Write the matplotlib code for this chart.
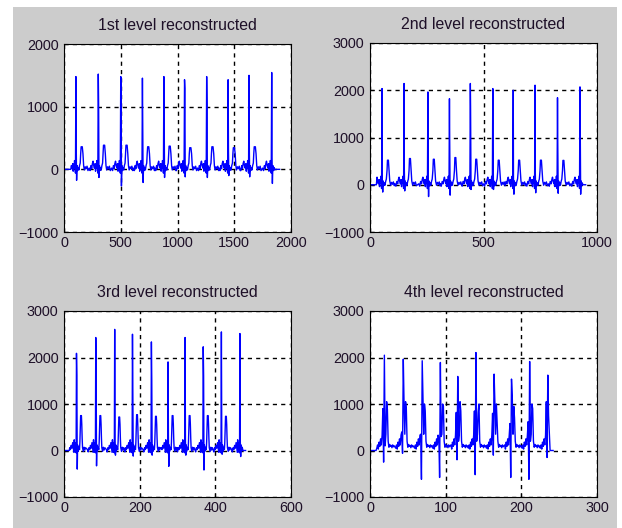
import matplotlib.pyplot as plt
from matplotlib.patches import Rectangle

plt.rcParams['font.family'] = ['Liberation Sans', 'DejaVu Sans']

titles = ['1st level reconstructed', '2nd level reconstructed',
          '3rd level reconstructed', '4th level reconstructed']

# --- level 1 (full rate) ---
l1_r_pos = [105, 302, 500, 691, 880, 1062, 1257, 1446, 1630, 1830]
l1_r_amp = [1480, 1520, 1480, 1455, 1480, 1430, 1480, 1430, 1500, 1545]
l1_r2 = [330, 1040, 1450, 580, 740, 1290, 1030, 300, 300, 200]
l1_s = [-175, -130, -265, -210, -130, -120, -130, -100, -120, -225]
l1_t = [360, 385, 385, 360, 370, 345, 360, 345, 360, 40]
l1_shape_dx = [-80, -72, -64, -58, -52, -46, -40, -34, -28, -24, -20, -16, -12, -8, -4,
               0, 3, 6, 10, 14, 20, 26, 32, 38, 42, 46, 56, 62, 68, 74, 82, 90, 98, 106]
l1_shape_y = [20, -20, 60, 10, 90, 130, 60, 20, 90, -30, 80, 20, 140, 40, -60,
              'R', 'R2', 'S', 60, -20, 30, -10, 60, 100, 250, 'T', 'T', 250, 60, -10, 40, 10, 50, -20]

# --- level 2 ---
l2_r_pos = [53, 150, 255, 350, 442, 541, 631, 727, 826, 925]
l2_r_amp = [2036, 2143, 1964, 1821, 2143, 2036, 2000, 2107, 1843, 2071]
l2_r2 = [150, 370, 120, 1000, 1660, 800, 150, 300, 1020, 1340]
l2_s = [-155, -130, -250, -220, -100, -100, -200, -170, -180, -200]
l2_t = [520, 555, 540, 575, 540, 520, 520, 520, 515, 60]
l2_shape_dx = [-40, -36, -32, -28, -25, -22, -19, -16, -13, -11, -9, -7, -5, -3, -2,
               0, 1, 3, 5, 7, 10, 13, 16, 19, 22, 24, 28, 31, 34, 38, 42, 46, 50, 54]
l2_shape_y = [20, -30, 70, 20, 110, 160, 70, 20, 110, -40, 100, 30, 180, 60, -80,
              'R', 'R2', 'S', 80, -20, 40, -10, 70, 120, 300, 'T', 'T', 300, 80, -10, 50, 10, 60, -20]

# --- level 3 ---
l3_r_pos = [33, 84, 134, 181, 231, 275, 320, 368, 416, 465]
l3_r_amp = [2090, 2430, 2605, 2500, 2335, 1905, 2430, 2230, 2550, 2515]
l3_r2 = [1605, 1570, 200, 1350, 1500, 300, 200, 1605, 200, 200]
l3_s = [-400, -330, -100, -120, -100, -340, -100, -420, -80, -130]
l3_t = [750, 750, 720, 770, 735, 750, 750, 750, 735, 40]
l3_shape_dx = [-22, -20, -18, -16, -14, -12, -10, -8, -7, -6, -5, -4, -3, -2, -1,
               0, 1, 2, 3, 4, 6, 8, 9, 10, 11, 13, 14, 15, 16, 18, 20, 22, 24]
l3_shape_y = [20, -30, 60, 20, 110, 50, 170, 40, -40, 230, 80, -30, 170, 90, -50,
              'R', 'R2', 'S', 120, -20, 70, 20, 180, 480, 'T', 'T', 560, 260, 60, -20, 70, 10, 60]

# --- level 4 ---
l4_r_pos = [19, 44, 69, 93, 116, 140, 164, 187, 211, 235]
l4_r_amp = [2050, 1964, 1930, 1893, 1593, 2107, 1643, 1536, 1914, 1621]
l4_pre = [900, 400, 350, 250, 820, 850, 800, 580, 620, 1050]
l4_s = [-250, -60, -620, -580, -200, -520, -100, -580, -620, -150]
l4_r2 = [100, 1000, 1180, 300, 200, 200, 1050, 1180, 200, 750]
l4_t = [1050, 1050, 1000, 1000, 1050, 820, 1000, 950, 1000, 40]
l4_t2 = [880, 900, 850, 950, 850, 1000, 600, 700, 900, 20]
l4_shape_dx = [-10, -9, -8, -7, -6, -5, -4, -3, -2, -1, 0, 1, 2, 3, 4, 5, 6, 7, 8, 9, 10, 11, 12, 13]
l4_shape_y = [50, 120, 30, 180, 90, 250, 120, 330, 'P', 'S', 'R', 'R2', 350, 'T', 'T2',
              200, 70, 130, 90, 110, 60, 120, 80, 100]


def build_trace(r_pos, values, shape_dx, shape_y, start, stop, end):
    # flat lead-in, beats up to `stop`, then flat to the last sample
    xs, ys = [0, start], [0, 0]
    for i, p in enumerate(r_pos):
        for dx, y in zip(shape_dx, shape_y):
            x = p + dx
            if x <= xs[-1] or x > stop:
                continue
            xs.append(x)
            ys.append(values[y][i] if isinstance(y, str) else y)
    xs += [stop + 2, end]
    ys += [0, 0]
    return xs, ys


traces = [
    build_trace(l1_r_pos, {'R': l1_r_amp, 'R2': l1_r2, 'S': l1_s, 'T': l1_t},
                l1_shape_dx, l1_shape_y, 60, 1858, 1900),
    build_trace(l2_r_pos, {'R': l2_r_amp, 'R2': l2_r2, 'S': l2_s, 'T': l2_t},
                l2_shape_dx, l2_shape_y, 28, 936, 950),
    build_trace(l3_r_pos, {'R': l3_r_amp, 'R2': l3_r2, 'S': l3_s, 'T': l3_t},
                l3_shape_dx, l3_shape_y, 14, 471, 480),
    build_trace(l4_r_pos, {'R': l4_r_amp, 'R2': l4_r2, 'S': l4_s, 'T': l4_t,
                           'T2': l4_t2, 'P': l4_pre},
                l4_shape_dx, l4_shape_y, 8, 236, 242),
]

x_ticks = [[0, 500, 1000, 1500, 2000], [0, 500, 1000], [0, 200, 400, 600], [0, 100, 200, 300]]
y_ticks = [[-1000, 0, 1000, 2000], [-1000, 0, 1000, 2000, 3000],
           [-1000, 0, 1000, 2000, 3000], [-1000, 0, 1000, 2000, 3000]]

W, H = 622, 528
fig = plt.figure(figsize=(W / 100, H / 100), dpi=100, facecolor='white')
fig.patches.append(Rectangle((13 / W, 0), 604 / W, 521 / H, transform=fig.transFigure,
                             facecolor='#cccccc', edgecolor='none', zorder=-1))

# axes boxes in pixels: left, top, right, bottom
boxes = [(64, 44, 291, 232), (370, 43, 597, 232), (64, 311, 291, 497), (370, 311, 597, 497)]
text_color = '#1e1028'

for k in range(4):
    l, t, r, b = boxes[k]
    ax = fig.add_axes([l / W, 1 - b / H, (r - l) / W, (b - t) / H])
    ax.set_facecolor('white')
    xs, ys = traces[k]
    ax.plot(xs, ys, color='#0000ff', lw=1.0)
    ax.set_xlim(x_ticks[k][0], x_ticks[k][-1])
    ax.set_ylim(y_ticks[k][0], y_ticks[k][-1])
    ax.set_xticks(x_ticks[k])
    ax.set_yticks(y_ticks[k])
    ax.grid(True, color='black', linestyle=(0, (3, 3)), linewidth=1.0)
    ax.set_axisbelow(True)
    ax.tick_params(direction='in', length=3, labelsize=10.4, labelcolor=text_color)
    ax.tick_params(axis='y', pad=4)
    ax.tick_params(axis='x', pad=3)
    for s in ax.spines.values():
        s.set_linewidth(0.8)
    ax.set_title(titles[k], fontsize=11.4, color=text_color, pad=10)

fig.savefig('out.png', dpi=100)
